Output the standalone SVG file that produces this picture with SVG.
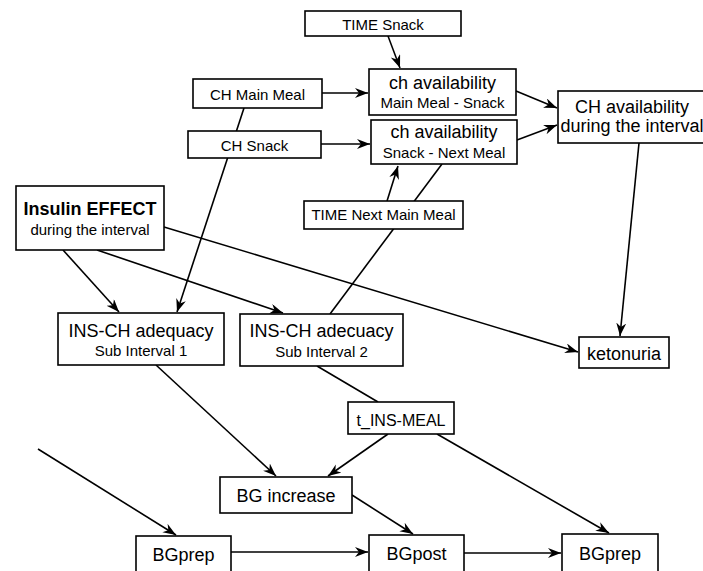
<svg xmlns="http://www.w3.org/2000/svg" width="703" height="571" viewBox="0 0 703 571">
  <style>
    .box { fill: #ffffff; stroke: #000000; stroke-width: 1.6; }
    .edge { fill: none; stroke: #000000; stroke-width: 1.6; }
    .t18 { font-family: "Liberation Sans", Arial, sans-serif; font-size: 18px; fill: #000000; text-anchor: middle; }
    .t15 { font-family: "Liberation Sans", Arial, sans-serif; font-size: 15px; fill: #000000; text-anchor: middle; }
    .t16 { font-family: "Liberation Sans", Arial, sans-serif; font-size: 16px; fill: #000000; text-anchor: middle; }
    .bold { font-weight: bold; }
  </style>
  <defs>
    <marker id="arrow" markerUnits="userSpaceOnUse" markerWidth="14" markerHeight="12" refX="13" refY="5" orient="auto">
      <path d="M0,0 L13,5 L0,10 L4,5 z" fill="#000000"/>
    </marker>
  </defs>
  <rect width="703" height="571" fill="#ffffff"/>

  <!-- connectors -->
  <g id="connectors">
    <line class="edge" x1="388" y1="36" x2="400" y2="68" marker-end="url(#arrow)"/>
    <line class="edge" x1="322" y1="93" x2="368" y2="93" marker-end="url(#arrow)"/>
    <line class="edge" x1="321" y1="144" x2="370" y2="144" marker-end="url(#arrow)"/>
    <line class="edge" x1="244" y1="108" x2="177" y2="312" marker-end="url(#arrow)"/>
    <line class="edge" x1="516" y1="91" x2="557" y2="108" marker-end="url(#arrow)"/>
    <line class="edge" x1="517" y1="140" x2="557" y2="125" marker-end="url(#arrow)"/>
    <line class="edge" x1="639" y1="143" x2="620" y2="336" marker-end="url(#arrow)"/>
    <line class="edge" x1="387" y1="201" x2="398" y2="166" marker-end="url(#arrow)"/>
    <line class="edge" x1="442" y1="164" x2="330" y2="314"/>
    <line class="edge" x1="63" y1="250" x2="119" y2="312" marker-end="url(#arrow)"/>
    <line class="edge" x1="97" y1="250" x2="283" y2="313" marker-end="url(#arrow)"/>
    <line class="edge" x1="164" y1="227" x2="578" y2="352" marker-end="url(#arrow)"/>
    <line class="edge" x1="156" y1="365" x2="276" y2="476" marker-end="url(#arrow)"/>
    <line class="edge" x1="317" y1="366" x2="378" y2="402"/>
    <line class="edge" x1="388" y1="434" x2="328" y2="476" marker-end="url(#arrow)"/>
    <line class="edge" x1="437" y1="434" x2="609" y2="533" marker-end="url(#arrow)"/>
    <line class="edge" x1="352" y1="495" x2="413" y2="534" marker-end="url(#arrow)"/>
    <line class="edge" x1="231" y1="552" x2="368" y2="552" marker-end="url(#arrow)"/>
    <line class="edge" x1="464" y1="553" x2="561" y2="553" marker-end="url(#arrow)"/>
    <line class="edge" x1="38" y1="449" x2="176" y2="535" marker-end="url(#arrow)"/>
  </g>

  <!-- nodes -->
  <g id="time-snack">
    <rect class="box" x="305" y="11" width="156" height="25"/>
    <text class="t15" x="383" y="30">TIME Snack</text>
  </g>
  <g id="ch-main-meal">
    <rect class="box" x="193" y="79" width="129" height="29"/>
    <text class="t15" x="257.5" y="100">CH Main Meal</text>
  </g>
  <g id="ch-snack">
    <rect class="box" x="188" y="131" width="133" height="27"/>
    <text class="t15" x="254.5" y="151">CH Snack</text>
  </g>
  <g id="ch-avail-main-snack">
    <rect class="box" x="369" y="69" width="147" height="46"/>
    <text class="t18" x="442.5" y="89">ch availability</text>
    <text class="t15" x="442.5" y="108">Main Meal - Snack</text>
  </g>
  <g id="ch-avail-snack-next">
    <rect class="box" x="371" y="120" width="146" height="44"/>
    <text class="t18" x="444" y="138">ch availability</text>
    <text class="t15" x="444" y="158">Snack - Next Meal</text>
  </g>
  <g id="ch-avail-interval">
    <rect class="box" x="558" y="91" width="148" height="52"/>
    <text class="t18" x="632" y="113">CH availability</text>
    <text class="t18" x="632" y="132">during the interval</text>
  </g>
  <g id="insulin-effect">
    <rect class="box" x="16" y="186" width="148" height="64"/>
    <text class="t18 bold" x="90" y="215">Insulin EFFECT</text>
    <text class="t15" x="90" y="235">during the interval</text>
  </g>
  <g id="time-next-main-meal">
    <rect class="box" x="304" y="201" width="159" height="28"/>
    <text class="t15" x="383.5" y="220">TIME Next Main Meal</text>
  </g>
  <g id="ins-ch-1">
    <rect class="box" x="58" y="313" width="166" height="52"/>
    <text class="t18" x="141" y="337">INS-CH adequacy</text>
    <text class="t15" x="141" y="356">Sub Interval 1</text>
  </g>
  <g id="ins-ch-2">
    <rect class="box" x="240" y="314" width="163" height="52"/>
    <text class="t18" x="321.5" y="337">INS-CH adecuacy</text>
    <text class="t15" x="321.5" y="357">Sub Interval 2</text>
  </g>
  <g id="ketonuria">
    <rect class="box" x="579" y="337" width="90" height="31"/>
    <text class="t18" x="624" y="360">ketonuria</text>
  </g>
  <g id="t-ins-meal">
    <rect class="box" x="348" y="402" width="106" height="32"/>
    <text class="t16" x="401" y="426">t_INS-MEAL</text>
  </g>
  <g id="bg-increase">
    <rect class="box" x="220" y="477" width="132" height="36"/>
    <text class="t18" x="286" y="502">BG increase</text>
  </g>
  <g id="bgprep-1">
    <rect class="box" x="136" y="536" width="95" height="45"/>
    <text class="t18" x="183.5" y="561">BGprep</text>
  </g>
  <g id="bgpost">
    <rect class="box" x="369" y="535" width="95" height="45"/>
    <text class="t18" x="416.5" y="560">BGpost</text>
  </g>
  <g id="bgprep-2">
    <rect class="box" x="562" y="534" width="96" height="46"/>
    <text class="t18" x="610" y="560">BGprep</text>
  </g>
</svg>
